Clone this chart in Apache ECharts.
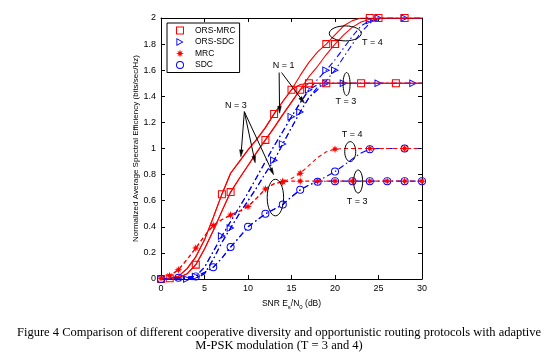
<!DOCTYPE html>
<html><head><meta charset="utf-8">
<script src="https://cdn.jsdelivr.net/npm/echarts@6/dist/echarts.min.js"></script>
<style>html,body{margin:0;padding:0;background:#fff}#c{width:545px;height:357px}</style>
</head><body><div id="c"></div><script>
// ---- data (SNR in dB, normalized spectral efficiency) ----
const snr = [0,1,2,3,4,5,6,7,8,9,10,11,12,13,14,15,16,17,18,19,20,21,22,23,24,25,26,27,28,29,30];
const xTicks = [0,5,10,15,20,25,30];
const yTicks = [0,0.2,0.4,0.6,0.8,1,1.2,1.4,1.6,1.8,2];

const orsMrcN3T4 = [0,0.005,0.02,0.08,0.17,0.3,0.47,0.65,0.81,0.9,0.99,1.07,1.16,1.265,1.36,1.45,1.56,1.66,1.74,1.8,1.87,1.94,1.98,2,2,2,2,2,2,2,2];
const orsMrcN3T3 = [0,0.005,0.02,0.08,0.17,0.3,0.47,0.65,0.81,0.9,0.99,1.07,1.16,1.265,1.36,1.45,1.49,1.5,1.5,1.5,1.5,1.5,1.5,1.5,1.5,1.5,1.5,1.5,1.5,1.5,1.5];
const orsMrcN1T4 = [0,0,0.01,0.04,0.11,0.23,0.37,0.52,0.666,0.77,0.87,0.97,1.066,1.16,1.26,1.355,1.45,1.55,1.63,1.72,1.8,1.87,1.93,1.97,1.99,2,2,2,2,2,2];
const orsMrcN1T3 = [0,0,0.01,0.04,0.11,0.23,0.37,0.52,0.666,0.77,0.87,0.97,1.066,1.16,1.26,1.355,1.45,1.5,1.5,1.5,1.5,1.5,1.5,1.5,1.5,1.5,1.5,1.5,1.5,1.5,1.5];
const orsSdcN3T4 = [0,0,0,0.005,0.02,0.09,0.21,0.33,0.44,0.55,0.66,0.78,0.9,1.02,1.13,1.244,1.35,1.45,1.53,1.6,1.68,1.77,1.86,1.94,1.98,2,2,2,2,2,2];
const orsSdcN3T3 = [0,0,0,0.005,0.02,0.09,0.21,0.33,0.44,0.55,0.66,0.78,0.9,1.02,1.13,1.244,1.35,1.45,1.49,1.5,1.5,1.5,1.5,1.5,1.5,1.5,1.5,1.5,1.5,1.5,1.5];
const orsSdcN1T4 = [0,0,0,0,0.005,0.04,0.15,0.28,0.39,0.5,0.6,0.7,0.81,0.91,1.035,1.16,1.28,1.39,1.45,1.52,1.6,1.7,1.8,1.89,1.96,2,2,2,2,2,2];
const orsSdcN1T3 = [0,0,0,0,0.005,0.04,0.15,0.28,0.39,0.5,0.6,0.7,0.81,0.91,1.035,1.16,1.28,1.39,1.47,1.5,1.5,1.5,1.5,1.5,1.5,1.5,1.5,1.5,1.5,1.5,1.5];
const mrcT4 = [0.005,0.025,0.07,0.15,0.237,0.33,0.41,0.455,0.49,0.52,0.555,0.62,0.69,0.73,0.745,0.77,0.81,0.87,0.93,0.975,0.995,1,1,1,1,1,1,1,1,1,1];
const mrcT3 = [0.005,0.025,0.07,0.15,0.237,0.33,0.41,0.455,0.49,0.52,0.555,0.62,0.69,0.73,0.745,0.75,0.75,0.75,0.75,0.75,0.75,0.75,0.75,0.75,0.75,0.75,0.75,0.75,0.75,0.75,0.75];
const sdcT4 = [0,0.005,0.01,0.015,0.02,0.05,0.09,0.16,0.245,0.32,0.4,0.45,0.5,0.535,0.57,0.63,0.683,0.72,0.75,0.785,0.823,0.87,0.92,0.965,0.995,1,1,1,1,1,1];
const sdcT3 = [0,0.005,0.01,0.015,0.02,0.05,0.09,0.16,0.245,0.32,0.4,0.45,0.5,0.535,0.57,0.63,0.683,0.72,0.745,0.75,0.75,0.75,0.75,0.75,0.75,0.75,0.75,0.75,0.75,0.75,0.75];

// SNR values where markers are drawn on each curve
const mkOrsMrcN3T4 = [1,7,13,15,19,24];
const mkOrsMrcN3T3 = [17,23,27];
const mkOrsMrcN1T4 = [0,4,8,12,16,20,25,28];
const mkOrsMrcN1T3 = [19];
const mkOrsSdcN3T4 = [4,7,15,19,24,28];
const mkOrsSdcN3T3 = [17,21,25,29];
const mkOrsSdcN1T4 = [3,8,13,14,16,20,25];
const mkOrsSdcN1T3 = [19];
const mkMrcT4 = [0,1,2,4,6,8,10,12,14,16,20,24,28];
const mkMrcT3 = [14,16,18,20,22,24,26,28,30];
const mkSdcT4 = [0,2,4,6,8,10,12,14,16,20,24,28];
const mkSdcT3 = [18,20,22,24,26,28,30];

const legendNames = ['ORS-MRC','ORS-SDC','MRC','SDC'];
const captionLines = ['Figure 4 Comparison of different cooperative diversity and opportunistic routing protocols with adaptive','M-PSK modulation (T = 3 and 4)'];

// ---- styling ----
const RED = '#ff0000', BLUE = '#0000ff';
const SYM = {
  square: 'path://M-5 -5H5V5H-5Z M-3.7 -3.7V3.7H3.7V-3.7Z',
  tri: 'path://M-4 -5L5 0L-4 5Z M-2.9 -3.2L-2.9 3.2L2.8 0Z',
  star: 'path://M0 -5L1 -1.8L3.6 -3.6L1.8 -1L5 0L1.8 1L3.6 3.6L1 1.8L0 5L-1 1.8L-3.6 3.6L-1.8 1L-5 0L-1.8 -1L-3.6 -3.6L-1 -1.8Z',
  circle: 'path://M-5 0A5 5 0 1 1 5 0A5 5 0 1 1 -5 0Z M-3.8 0A3.8 3.8 0 1 0 3.8 0A3.8 3.8 0 1 0 -3.8 0Z'
};
const DASHDOT = [6,3,1.5,3];
const DASH = [4,3];
const curves = [
  {name:'ORS-SDC', y:orsSdcN3T4, m:mkOrsSdcN3T4, color:BLUE, sym:'tri', dash:DASHDOT},
  {name:'ORS-SDC', y:orsSdcN3T3, m:mkOrsSdcN3T3, color:BLUE, sym:'tri', dash:DASHDOT},
  {name:'ORS-SDC', y:orsSdcN1T4, m:mkOrsSdcN1T4, color:BLUE, sym:'tri', dash:DASHDOT},
  {name:'ORS-SDC', y:orsSdcN1T3, m:mkOrsSdcN1T3, color:BLUE, sym:'tri', dash:DASHDOT},
  {name:'ORS-MRC', y:orsMrcN3T4, m:mkOrsMrcN3T4, color:RED, sym:'square', dash:'solid'},
  {name:'ORS-MRC', y:orsMrcN3T3, m:mkOrsMrcN3T3, color:RED, sym:'square', dash:'solid'},
  {name:'ORS-MRC', y:orsMrcN1T4, m:mkOrsMrcN1T4, color:RED, sym:'square', dash:'solid'},
  {name:'ORS-MRC', y:orsMrcN1T3, m:mkOrsMrcN1T3, color:RED, sym:'square', dash:'solid'},
  {name:'SDC', y:sdcT4, m:mkSdcT4, color:BLUE, sym:'circle', dash:DASHDOT},
  {name:'SDC', y:sdcT3, m:mkSdcT3, color:BLUE, sym:'circle', dash:DASHDOT},
  {name:'MRC', y:mrcT4, m:mkMrcT4, color:RED, sym:'star', dash:DASH},
  {name:'MRC', y:mrcT3, m:mkMrcT3, color:RED, sym:'star', dash:DASH}
];
const FONT = 'Liberation Sans';

const series = curves.map((c, k) => ({
  type:'line', name:c.name, xAxisIndex:0, yAxisIndex:0,
  data: snr.map((x,i) => ({value:[x, c.y[i]], symbol: c.m.includes(x) ? SYM[c.sym] : 'none'})),
  symbolSize: 8, showSymbol:true, showAllSymbol:true, smooth:false,
  lineStyle:{color:c.color, width:1.1, type:c.dash},
  itemStyle:{color:c.color},
  emphasis:{disabled:true}, animation:false, z: 2 + k*0.01
}));

const axisCommon = {
  axisLine:{show:true, onZero:false, lineStyle:{color:'#000', width:1}},
  axisTick:{show:true, inside:true, length:4, lineStyle:{color:'#000', width:1}},
  splitLine:{show:false}
};

const chart = echarts.init(document.getElementById('c'), null, {renderer:'canvas'});
chart.setOption({
  animation:false,
  backgroundColor:'#fff',
  grid:{left:161, right:123, top:18, bottom:78, containLabel:false, outerBoundsMode:'none'},
  legend:{
    data: legendNames.map((n,i) => ({name:n, icon:[SYM.square, SYM.tri, SYM.star, SYM.circle][i]})),
    orient:'vertical', left:167, top:23, itemWidth:20, itemHeight:8, itemGap:2.5,
    padding:[3,4,3,9], borderColor:'#000', borderWidth:1, backgroundColor:'#fff',
    textStyle:{fontFamily:FONT, fontSize:8.5, color:'#000'}, selectedMode:false
  },
  xAxis:[
    Object.assign({type:'value', min:xTicks[0], max:xTicks[xTicks.length-1], interval:xTicks[1]-xTicks[0], position:'bottom',
      axisLabel:{color:'#000', fontFamily:FONT, fontSize:9, margin:5},
      name:'{a|SNR E}{s|s}{a|/N}{s|0}{a| (dB)}', nameLocation:'middle', nameGap:17,
      nameTextStyle:{color:'#000', fontFamily:FONT, rich:{
        a:{fontFamily:FONT, fontSize:8.5, color:'#000', lineHeight:12, verticalAlign:'middle'},
        s:{fontFamily:FONT, fontSize:6, color:'#000', lineHeight:12, verticalAlign:'bottom', padding:[6,0,0,0]}}}
    }, axisCommon),
    Object.assign({type:'value', min:xTicks[0], max:xTicks[xTicks.length-1], interval:xTicks[1]-xTicks[0], position:'top',
      axisLabel:{show:false}}, axisCommon)
  ],
  yAxis:[
    Object.assign({type:'value', min:yTicks[0], max:yTicks[yTicks.length-1], interval:0.2, position:'left',
      axisLabel:{color:'#000', fontFamily:FONT, fontSize:9, margin:5},
      name:'Normalized Average Spectral Efficiency (bits/sec/Hz)', nameLocation:'middle', nameGap:20,
      nameTextStyle:{color:'#000', fontFamily:FONT, fontSize:8}
    }, axisCommon),
    Object.assign({type:'value', min:yTicks[0], max:yTicks[yTicks.length-1], interval:0.2, position:'right',
      axisLabel:{show:false}}, axisCommon)
  ],
  series: series
});

// ---- annotations (positions in data coordinates) ----
const ellipses = [
  {c:[21.18,1.882], rx:16, ry:7.5},
  {c:[21.33,1.494], rx:3.5, ry:11.5},
  {c:[21.75,0.976], rx:5.5, ry:10},
  {c:[22.66,0.747], rx:4.5, ry:11.5},
  {c:[13.15,0.624], rx:8.2, ry:18.3}
];
const labels = [
  {t:'T = 4', p:[24.29,1.81]},
  {t:'T = 3', p:[21.26,1.359]},
  {t:'T = 4', p:[21.98,1.104]},
  {t:'T = 3', p:[22.55,0.594]},
  {t:'N = 3', p:[8.61,1.326]},
  {t:'N = 1', p:[14.09,1.636]}
];
const arrows = [
  {from:[9.58,1.282], to:[9.18,0.936]},
  {from:[9.58,1.282], to:[10.83,0.89]},
  {from:[9.58,1.282], to:[12.95,0.798]},
  {from:[13.58,1.582], to:[13.63,1.27]},
  {from:[13.86,1.582], to:[16.49,1.347]}
];
const px = p => chart.convertToPixel({gridIndex:0}, p);
const g = [];
ellipses.forEach(e => {
  const c = px(e.c);
  g.push({type:'ellipse', shape:{cx:c[0], cy:c[1], rx:e.rx, ry:e.ry}, style:{fill:'none', stroke:'#000', lineWidth:1}, z:50});
});
labels.forEach(l => {
  const c = px(l.p);
  g.push({type:'text', x:c[0], y:c[1], style:{text:l.t, font:'9px "Liberation Sans"', fill:'#000', align:'center', verticalAlign:'middle', textAlign:'center', textVerticalAlign:'middle'}, z:50});
});
arrows.forEach(a => {
  const s = px(a.from), e = px(a.to);
  const dx = e[0]-s[0], dy = e[1]-s[1], L = Math.hypot(dx,dy), ux = dx/L, uy = dy/L;
  const hl = 7, hw = 1.8;
  const bx = e[0]-ux*hl, by = e[1]-uy*hl;
  g.push({type:'line', shape:{x1:s[0], y1:s[1], x2:bx, y2:by}, style:{stroke:'#000', lineWidth:1}, z:50});
  g.push({type:'polygon', shape:{points:[[e[0],e[1]],[bx-uy*hw, by+ux*hw],[bx+uy*hw, by-ux*hw]]}, style:{fill:'#000', stroke:'#000', lineWidth:0.5}, z:50});
});
captionLines.forEach((t,i) => {
  g.push({type:'text', x:279, y:333 + i*13, style:{text:t, font:'12.5px "Liberation Serif"', fill:'#000', align:'center', verticalAlign:'middle', textAlign:'center', textVerticalAlign:'middle'}, z:50});
});
chart.setOption({graphic:g});
</script></body></html>
